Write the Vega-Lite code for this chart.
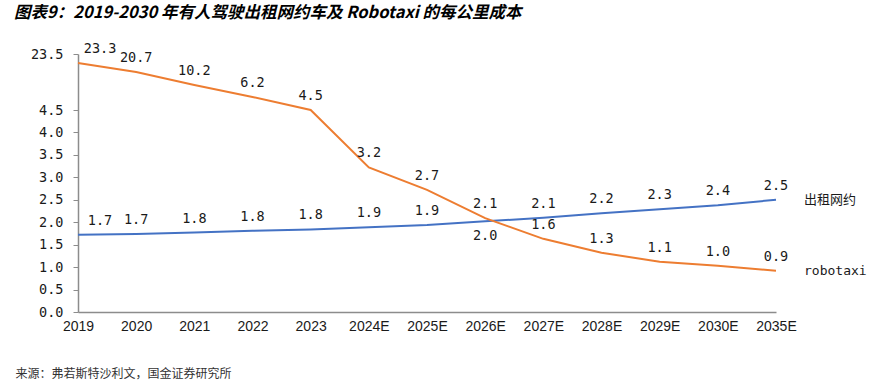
{
  "$schema": "https://vega.github.io/schema/vega-lite/v6.json",
  "autosize": "none",
  "width": 698,
  "height": 258,
  "padding": {"left": 78, "top": 54, "right": 106, "bottom": 80},
  "background": "white",
  "config": {"view": {"stroke": null}},
  "title": {
    "text": "图表9：2019-2030 年有人驾驶出租网约车及 Robotaxi 的每公里成本",
    "anchor": "start",
    "frame": "group",
    "dx": -64,
    "offset": 21,
    "fontSize": 16.5,
    "fontWeight": "bold",
    "fontStyle": "italic",
    "font": "Noto Sans CJK SC",
    "color": "#000000"
  },
  "data": {
    "values": [
      {"year": "2019", "series": "出租网约", "value": 1.72},
      {"year": "2020", "series": "出租网约", "value": 1.74},
      {"year": "2021", "series": "出租网约", "value": 1.77},
      {"year": "2022", "series": "出租网约", "value": 1.81},
      {"year": "2023", "series": "出租网约", "value": 1.84},
      {"year": "2024E", "series": "出租网约", "value": 1.89},
      {"year": "2025E", "series": "出租网约", "value": 1.94},
      {"year": "2026E", "series": "出租网约", "value": 2.02},
      {"year": "2027E", "series": "出租网约", "value": 2.1},
      {"year": "2028E", "series": "出租网约", "value": 2.2},
      {"year": "2029E", "series": "出租网约", "value": 2.29},
      {"year": "2030E", "series": "出租网约", "value": 2.38},
      {"year": "2035E", "series": "出租网约", "value": 2.5},
      {"year": "2019", "series": "robotaxi", "value": 23.3},
      {"year": "2020", "series": "robotaxi", "value": 20.7},
      {"year": "2021", "series": "robotaxi", "value": 10.2},
      {"year": "2022", "series": "robotaxi", "value": 6.2},
      {"year": "2023", "series": "robotaxi", "value": 4.5},
      {"year": "2024E", "series": "robotaxi", "value": 3.22},
      {"year": "2025E", "series": "robotaxi", "value": 2.72},
      {"year": "2026E", "series": "robotaxi", "value": 2.09},
      {"year": "2027E", "series": "robotaxi", "value": 1.63},
      {"year": "2028E", "series": "robotaxi", "value": 1.32},
      {"year": "2029E", "series": "robotaxi", "value": 1.12},
      {"year": "2030E", "series": "robotaxi", "value": 1.03},
      {"year": "2035E", "series": "robotaxi", "value": 0.92}
    ]
  },
  "encoding": {
    "x": {
      "field": "year",
      "type": "ordinal",
      "sort": null,
      "scale": {"type": "point", "padding": 0},
      "axis": {
        "labelAngle": 0,
        "ticks": false,
        "labelPadding": 7,
        "labelFont": "Liberation Sans",
        "labelFontSize": 14,
        "labelColor": "#1a1a1a",
        "domainColor": "#8c8c8c",
        "domainWidth": 1.5,
        "grid": false,
        "title": "来源：弗若斯特沙利文，国金证券研究所",
        "titleX": -63,
        "titleY": 61,
        "titleAlign": "left",
        "titleAnchor": "start",
        "titleBaseline": "middle",
        "titleFont": "Noto Sans CJK SC",
        "titleFontSize": 12,
        "titleFontWeight": "normal",
        "titleColor": "#333333"
      }
    },
    "y": {
      "field": "value",
      "type": "quantitative",
      "scale": {
        "domain": [0, 4.5, 6.2, 10.2, 20.7, 23.3, 23.5],
        "range": [258, 56, 43, 31, 18, 9, 0],
        "nice": false,
        "zero": false
      },
      "axis": {
        "values": [0, 0.5, 1, 1.5, 2, 2.5, 3, 3.5, 4, 4.5, 23.5],
        "format": ".1f",
        "grid": false,
        "title": null,
        "tickSize": 5,
        "tickColor": "#8c8c8c",
        "domainColor": "#8c8c8c",
        "domainWidth": 1.5,
        "labelPadding": 10,
        "labelFont": "DejaVu Sans Mono",
        "labelFontSize": 13.5,
        "labelColor": "#1a1a1a"
      }
    },
    "color": {
      "field": "series",
      "type": "nominal",
      "scale": {"domain": ["出租网约", "robotaxi"], "range": ["#4472C4", "#ED7D31"]},
      "legend": null
    }
  },
  "layer": [
    {"mark": {"type": "line", "strokeWidth": 2, "interpolate": "linear"}},
    {
      "transform": [{"filter": "datum.year !== '2019' && !(datum.series === '出租网约' && datum.year === '2026E')"}],
      "mark": {"type": "text", "dy": -14, "baseline": "middle", "font": "DejaVu Sans Mono", "fontSize": 13.5},
      "encoding": {"text": {"field": "value", "format": ".1f"}, "color": {"value": "#1a1a1a"}}
    },
    {
      "transform": [{"filter": "datum.year === '2019'"}],
      "mark": {"type": "text", "dx": 22, "dy": -14, "baseline": "middle", "font": "DejaVu Sans Mono", "fontSize": 13.5},
      "encoding": {"text": {"field": "value", "format": ".1f"}, "color": {"value": "#1a1a1a"}}
    },
    {
      "transform": [{"filter": "datum.series === '出租网约' && datum.year === '2026E'"}],
      "mark": {"type": "text", "dy": 15, "baseline": "middle", "font": "DejaVu Sans Mono", "fontSize": 13.5},
      "encoding": {"text": {"field": "value", "format": ".1f"}, "color": {"value": "#1a1a1a"}}
    },
    {
      "transform": [{"filter": "datum.year === '2035E'"}],
      "mark": {"type": "text", "dx": 28, "align": "left", "baseline": "middle", "font": "DejaVu Sans Mono, Noto Sans CJK SC", "fontSize": 13},
      "encoding": {"text": {"field": "series"}, "color": {"value": "#1a1a1a"}}
    }
  ]
}
